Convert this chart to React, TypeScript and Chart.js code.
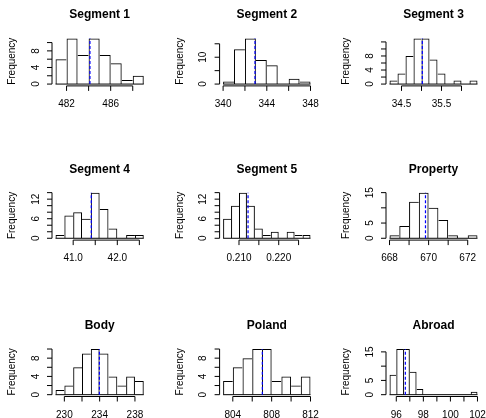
import React, { useEffect, useRef } from "react";
import { Chart, registerables } from "chart.js";

Chart.register(...registerables);

// ---------- data ----------
const titles = ["Segment 1", "Segment 2", "Segment 3", "Segment 4", "Segment 5", "Property", "Body", "Poland", "Abroad"];

const seg1Breaks = [481, 482, 483, 484, 485, 486, 487, 488, 489];
const seg1Counts = [6, 11, 7, 11, 7, 5, 1, 2];
const seg1Mean = 484.12;
const seg1XTicks = [482, 484, 486, 488];
const seg1XLabels = ["482", "486"];
const seg1YTicks = [0, 2, 4, 6, 8, 10];
const seg1YLabels = ["0", "4", "8"];

const seg2Breaks = [340, 341, 342, 343, 344, 345, 346, 347, 348];
const seg2Counts = [1, 13, 17, 9, 7, 0, 2, 1];
const seg2Mean = 342.92;
const seg2XTicks = [340, 342, 344, 346, 348];
const seg2XLabels = ["340", "344", "348"];
const seg2YTicks = [0, 5, 10, 15];
const seg2YLabels = ["0", "10"];

const seg3Breaks = [34.2, 34.4, 34.6, 34.8, 35.0, 35.2, 35.4, 35.6, 35.8, 36.0, 36.2, 36.4];
const seg3Counts = [1, 3, 8, 13, 13, 7, 3, 0, 1, 0, 1];
const seg3Mean = 35.02;
const seg3XTicks = [34.5, 35.0, 35.5, 36.0];
const seg3XLabels = ["34.5", "35.5"];
const seg3YTicks = [0, 2, 4, 6, 8, 10, 12];
const seg3YLabels = ["0", "4", "8"];

const seg4Breaks = [40.6, 40.8, 41.0, 41.2, 41.4, 41.6, 41.8, 42.0, 42.2, 42.4, 42.6];
const seg4Counts = [1, 7, 8, 6, 14, 9, 3, 0, 1, 1];
const seg4Mean = 41.41;
const seg4XTicks = [41.0, 41.5, 42.0, 42.5];
const seg4XLabels = ["41.0", "42.0"];
const seg4YTicks = [0, 2, 4, 6, 8, 10, 12, 14];
const seg4YLabels = ["0", "6", "12"];

const seg5Breaks = [0.206, 0.208, 0.21, 0.212, 0.214, 0.216, 0.218, 0.22, 0.222, 0.224, 0.226, 0.228];
const seg5Counts = [6, 10, 14, 10, 3, 1, 2, 0, 2, 1, 1];
const seg5Mean = 0.21228;
const seg5XTicks = [0.21, 0.215, 0.22, 0.225];
const seg5XLabels = ["0.210", "0.220"];
const seg5YTicks = [0, 2, 4, 6, 8, 10, 12, 14];
const seg5YLabels = ["0", "6", "12"];

const propBreaks = [668, 668.5, 669, 669.5, 670, 670.5, 671, 671.5, 672, 672.5];
const propCounts = [1, 4, 12, 15, 10, 6, 1, 0, 1];
const propMean = 669.84;
const propXTicks = [668, 669, 670, 671, 672];
const propXLabels = ["668", "670", "672"];
const propYTicks = [0, 5, 10, 15];
const propYLabels = ["0", "5", "15"];

const bodyBreaks = [229, 230, 231, 232, 233, 234, 235, 236, 237, 238, 239];
const bodyCounts = [1, 2, 6, 9, 10, 9, 4, 2, 4, 3];
const bodyMean = 233.97;
const bodyXTicks = [230, 232, 234, 236, 238];
const bodyXLabels = ["230", "234", "238"];
const bodyYTicks = [0, 2, 4, 6, 8, 10];
const bodyYLabels = ["0", "4", "8"];

const polandBreaks = [803, 804, 805, 806, 807, 808, 809, 810, 811, 812];
const polandCounts = [3, 6, 8, 10, 10, 3, 4, 2, 4];
const polandMean = 807.04;
const polandXTicks = [804, 806, 808, 810, 812];
const polandXLabels = ["804", "808", "812"];
const polandYTicks = [0, 2, 4, 6, 8, 10];
const polandYLabels = ["0", "4", "8"];

const abroadBreaks = [95.5, 96, 96.5, 97, 97.5, 98, 98.5, 99, 99.5, 100, 100.5, 101, 101.5, 102];
const abroadCounts = [7, 16, 16, 8, 2, 0, 0, 0, 0, 0, 0, 0, 1];
const abroadMean = 96.67;
const abroadXTicks = [96, 97, 98, 99, 100, 101, 102];
const abroadXLabels = ["96", "98", "100", "102"];
const abroadYTicks = [0, 5, 10, 15];
const abroadYLabels = ["0", "5", "15"];

type Panel = {
  title: string;
  breaks: number[];
  counts: number[];
  mean: number;
  xTicks: number[];
  xLabels: string[];
  yTicks: number[];
  yLabels: string[];
};

const panels: Panel[] = [
  { title: titles[0], breaks: seg1Breaks, counts: seg1Counts, mean: seg1Mean, xTicks: seg1XTicks, xLabels: seg1XLabels, yTicks: seg1YTicks, yLabels: seg1YLabels },
  { title: titles[1], breaks: seg2Breaks, counts: seg2Counts, mean: seg2Mean, xTicks: seg2XTicks, xLabels: seg2XLabels, yTicks: seg2YTicks, yLabels: seg2YLabels },
  { title: titles[2], breaks: seg3Breaks, counts: seg3Counts, mean: seg3Mean, xTicks: seg3XTicks, xLabels: seg3XLabels, yTicks: seg3YTicks, yLabels: seg3YLabels },
  { title: titles[3], breaks: seg4Breaks, counts: seg4Counts, mean: seg4Mean, xTicks: seg4XTicks, xLabels: seg4XLabels, yTicks: seg4YTicks, yLabels: seg4YLabels },
  { title: titles[4], breaks: seg5Breaks, counts: seg5Counts, mean: seg5Mean, xTicks: seg5XTicks, xLabels: seg5XLabels, yTicks: seg5YTicks, yLabels: seg5YLabels },
  { title: titles[5], breaks: propBreaks, counts: propCounts, mean: propMean, xTicks: propXTicks, xLabels: propXLabels, yTicks: propYTicks, yLabels: propYLabels },
  { title: titles[6], breaks: bodyBreaks, counts: bodyCounts, mean: bodyMean, xTicks: bodyXTicks, xLabels: bodyXLabels, yTicks: bodyYTicks, yLabels: bodyYLabels },
  { title: titles[7], breaks: polandBreaks, counts: polandCounts, mean: polandMean, xTicks: polandXTicks, xLabels: polandXLabels, yTicks: polandYTicks, yLabels: polandYLabels },
  { title: titles[8], breaks: abroadBreaks, counts: abroadCounts, mean: abroadMean, xTicks: abroadXTicks, xLabels: abroadXLabels, yTicks: abroadYTicks, yLabels: abroadYLabels },
];

// ---------- layout ----------
const W = 486;
const H = 418;
const colLeft = [52, 219.6, 386];
const colRight = [147.3, 314, 481];
const rowTop = [36.6, 190.8, 347.2];
const rowBottom = [85.9, 240.1, 396.5];
const FONT = '"Liberation Sans", Arial, Helvetica, sans-serif';

function makePlugin(p: Panel) {
  return {
    id: "rAxes",
    afterDatasetsDraw(chart: any) {
      const ctx: CanvasRenderingContext2D = chart.ctx;
      const xs = chart.scales.x;
      const ys = chart.scales.y;
      const area = chart.chartArea;
      const lo = p.breaks[0];
      const hi = p.breaks[p.breaks.length - 1];
      const M = Math.max(...p.counts);
      ctx.save();
      ctx.strokeStyle = "#000";
      ctx.lineWidth = 1;
      ctx.setLineDash([]);
      // histogram baseline (zero-height bins included)
      const y0 = ys.getPixelForValue(0);
      ctx.beginPath();
      ctx.moveTo(xs.getPixelForValue(lo), y0);
      ctx.lineTo(xs.getPixelForValue(hi), y0);
      ctx.stroke();

      // mean line
      const xm = xs.getPixelForValue(p.mean);
      ctx.save();
      ctx.strokeStyle = "#0000ff";
      ctx.lineWidth = 1.2;
      ctx.setLineDash([3, 2]);
      ctx.beginPath();
      ctx.moveTo(xm, y0);
      ctx.lineTo(xm, ys.getPixelForValue(M));
      ctx.stroke();
      ctx.restore();

      // x axis
      const yb = area.bottom;
      ctx.beginPath();
      ctx.moveTo(xs.getPixelForValue(p.xTicks[0]), yb);
      ctx.lineTo(xs.getPixelForValue(p.xTicks[p.xTicks.length - 1]), yb);
      for (const t of p.xTicks) {
        const x = xs.getPixelForValue(t);
        ctx.moveTo(x, yb);
        ctx.lineTo(x, yb + 5);
      }
      ctx.stroke();
      ctx.fillStyle = "#000";
      ctx.font = `10px ${FONT}`;
      ctx.textAlign = "center";
      ctx.textBaseline = "middle";
      for (const l of p.xLabels) {
        ctx.fillText(l, xs.getPixelForValue(parseFloat(l)), yb + 18.3);
      }

      // y axis
      const xl = area.left;
      ctx.beginPath();
      ctx.moveTo(xl, ys.getPixelForValue(p.yTicks[0]));
      ctx.lineTo(xl, ys.getPixelForValue(p.yTicks[p.yTicks.length - 1]));
      for (const t of p.yTicks) {
        const y = ys.getPixelForValue(t);
        ctx.moveTo(xl, y);
        ctx.lineTo(xl - 5, y);
      }
      ctx.stroke();
      for (const l of p.yLabels) {
        const y = ys.getPixelForValue(parseFloat(l));
        ctx.save();
        ctx.translate(xl - 16, y);
        ctx.rotate(-Math.PI / 2);
        ctx.fillText(l, 0, 0);
        ctx.restore();
      }
      // y axis title
      ctx.save();
      ctx.translate(xl - 39.5, (area.top + area.bottom) / 2);
      ctx.rotate(-Math.PI / 2);
      ctx.fillText("Frequency", 0, 0);
      ctx.restore();

      // main title
      ctx.font = `bold 12px ${FONT}`;
      ctx.textBaseline = "alphabetic";
      ctx.fillText(p.title, (area.left + area.right) / 2, area.top - 18.2);
      ctx.restore();
    },
  };
}

function makeChart(canvas: HTMLCanvasElement, p: Panel, idx: number) {
  const r = Math.floor(idx / 3);
  const c = idx % 3;
  const centers = p.counts.map((_, i) => (p.breaks[i] + p.breaks[i + 1]) / 2);
  const M = Math.max(...p.counts);
  const lo = p.breaks[0];
  const hi = p.breaks[p.breaks.length - 1];
  const span = hi - lo;
  const n = p.counts.length;
  return new Chart(canvas, {
    type: "bar",
    data: {
      datasets: [
        {
          data: centers.map((x, i) => ({ x, y: p.counts[i] })),
          backgroundColor: "rgba(0,0,0,0)",
          borderColor: "#000",
          borderWidth: (ctx: any) => {
            const i = ctx.dataIndex;
            if (i === undefined) return 1;
            const cur = p.counts[i];
            const left = i === 0 || cur >= p.counts[i - 1] ? 1 : 0;
            const right = i === n - 1 || cur > p.counts[i + 1] ? 1 : 0;
            return { top: 1, left, right, bottom: 0 };
          },
          borderSkipped: false,
          inflateAmount: 0,
          barPercentage: 1,
          categoryPercentage: 1,
          grouped: false,
        } as any,
      ],
    },
    options: {
      animation: false,
      responsive: false,
      events: [],
      layout: {
        padding: {
          left: colLeft[c],
          right: W - colRight[c],
          top: rowTop[r],
          bottom: H - rowBottom[r],
        },
      },
      plugins: {
        legend: { display: false },
        tooltip: { enabled: false },
        title: { display: false },
      },
      scales: {
        x: {
          type: "linear",
          display: false,
          offset: false,
          min: lo - 0.04 * span,
          max: hi + 0.04 * span,
          afterBuildTicks: (s: any) => {
            s.ticks = p.xTicks.map((v) => ({ value: v }));
          },
        },
        y: {
          type: "linear",
          display: false,
          min: -0.04 * M,
          max: 1.04 * M,
          afterBuildTicks: (s: any) => {
            s.ticks = p.yTicks.map((v) => ({ value: v }));
          },
        },
      },
    } as any,
    plugins: [makePlugin(p)],
  });
}

export default function App() {
  const refs = useRef<(HTMLCanvasElement | null)[]>([]);
  useEffect(() => {
    const charts = panels.map((p, i) => makeChart(refs.current[i] as HTMLCanvasElement, p, i));
    return () => charts.forEach((ch) => ch.destroy());
  }, []);
  return (
    <div style={{ position: "absolute", left: 0, top: 0, width: W, height: H, background: "#fff", overflow: "hidden" }}>
      {panels.map((p, i) => (
        <canvas
          key={p.title}
          ref={(el) => {
            refs.current[i] = el;
          }}
          width={W}
          height={H}
          style={{ position: "absolute", left: 0, top: 0 }}
        />
      ))}
    </div>
  );
}
